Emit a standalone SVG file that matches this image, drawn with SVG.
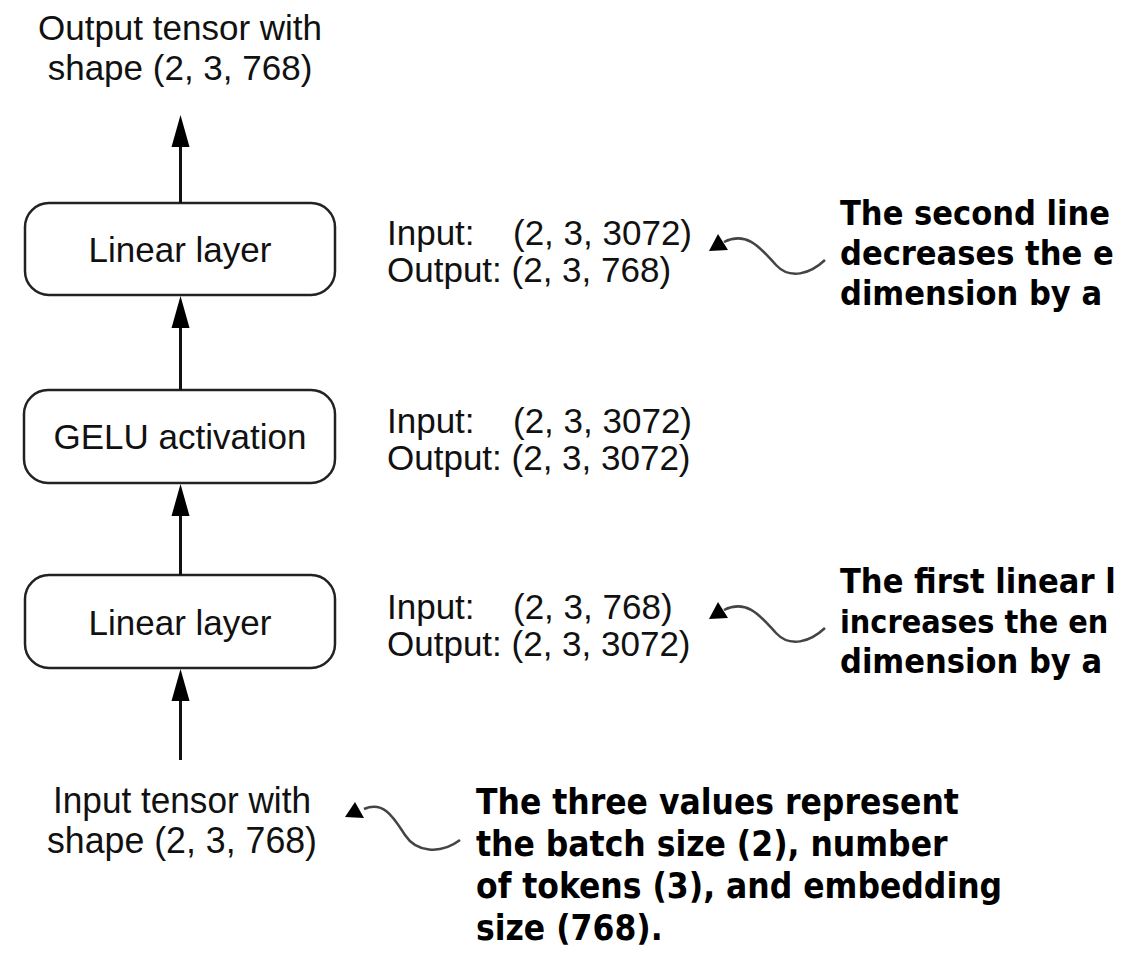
<svg xmlns="http://www.w3.org/2000/svg" width="1121" height="959" viewBox="0 0 1121 959">
<style>
.lbl{font-family:"Liberation Sans",Arial,sans-serif;font-size:35px;fill:#111}
.ann{font-family:"Liberation Sans",Arial,sans-serif;font-size:35px;fill:#111}
.bold{font-family:"DejaVu Sans Condensed","DejaVu Sans",sans-serif;font-weight:bold;font-size:35px;fill:#000}
.side{font-size:34px}
.box{fill:#fff;stroke:#222;stroke-width:2.5}
.edge{stroke:#111;stroke-width:3;fill:none}
.head{fill:#000}
.curve{stroke:#444;stroke-width:2.5;fill:none}
</style>
<rect width="1121" height="959" fill="#fff"/>
<g id="output-label">
<text class="lbl" x="180" y="40" text-anchor="middle">Output tensor with</text>
<text class="lbl" x="180" y="80" text-anchor="middle">shape (2, 3, 768)</text>
</g>
<g id="linear2">
<rect class="box" x="25" y="203" width="310" height="92" rx="24"/>
<text class="lbl" x="180" y="262" text-anchor="middle">Linear layer</text>
</g>
<g id="gelu">
<rect class="box" x="24" y="390" width="311" height="93" rx="24"/>
<text class="lbl" x="180" y="449" text-anchor="middle">GELU activation</text>
</g>
<g id="linear1">
<rect class="box" x="25" y="575" width="310" height="93" rx="24"/>
<text class="lbl" x="180" y="635" text-anchor="middle">Linear layer</text>
</g>
<g id="input-label">
<text class="lbl" x="182" y="813" text-anchor="middle" style="font-size:37px" textLength="258" lengthAdjust="spacingAndGlyphs">Input tensor with</text>
<text class="lbl" x="182" y="853" text-anchor="middle" style="font-size:37px" textLength="270" lengthAdjust="spacingAndGlyphs">shape (2, 3, 768)</text>
</g>
<g id="connectors">
<line class="edge" x1="180.5" y1="203" x2="180.5" y2="140"/>
<polygon class="head" points="180.5,115 189.5,147 171.5,147"/>
<line class="edge" x1="180.5" y1="390" x2="180.5" y2="320"/>
<polygon class="head" points="180.5,296 189.5,328 171.5,328"/>
<line class="edge" x1="180.5" y1="575" x2="180.5" y2="508"/>
<polygon class="head" points="180.5,484 189.5,516 171.5,516"/>
<line class="edge" x1="180.5" y1="760" x2="180.5" y2="693"/>
<polygon class="head" points="180.5,669 189.5,701 171.5,701"/>
</g>
<g id="ann-linear2">
<text class="ann" x="387" y="245">Input:<tspan x="513">(2, 3, 3072)</tspan></text>
<text class="ann" x="387" y="282">Output: (2, 3, 768)</text>
</g>
<g id="ann-gelu">
<text class="ann" x="387" y="433">Input:<tspan x="513">(2, 3, 3072)</tspan></text>
<text class="ann" x="387" y="470">Output: (2, 3, 3072)</text>
</g>
<g id="ann-linear1">
<text class="ann" x="387" y="619">Input:<tspan x="513">(2, 3, 768)</tspan></text>
<text class="ann" x="387" y="656">Output: (2, 3, 3072)</text>
</g>
<g id="callouts">
<path class="curve" d="M724,242 C748,230 762,250 776,265 C790,280 810,274 825,260"/>
<polygon class="head" points="709,251 718,234 728,250"/>
<path class="curve" d="M724,610 C748,598 762,618 776,633 C790,648 810,642 825,628"/>
<polygon class="head" points="709,619 718,602 728,618"/>
<path class="curve" d="M364,809 C385,800 395,820 405,835 C416,852 440,855 460,840"/>
<polygon class="head" points="345,817 355,802 364,818"/>
</g>
<g id="note-second">
<text class="bold side" x="840" y="225">The second line</text>
<text class="bold side" x="840" y="265">decreases the e</text>
<text class="bold side" x="840" y="305">dimension by a</text>
</g>
<g id="note-first">
<text class="bold side" x="840" y="593">The first linear l</text>
<text class="bold side" x="840" y="633" style="font-size:32px">increases the en</text>
<text class="bold side" x="840" y="673">dimension by a</text>
</g>
<g id="note-three">
<text class="bold" x="476" y="814">The three values represent</text>
<text class="bold" x="476" y="856">the batch size (2), number</text>
<text class="bold" x="476" y="898">of tokens (3), and embedding</text>
<text class="bold" x="476" y="940">size (768).</text>
</g>
</svg>
